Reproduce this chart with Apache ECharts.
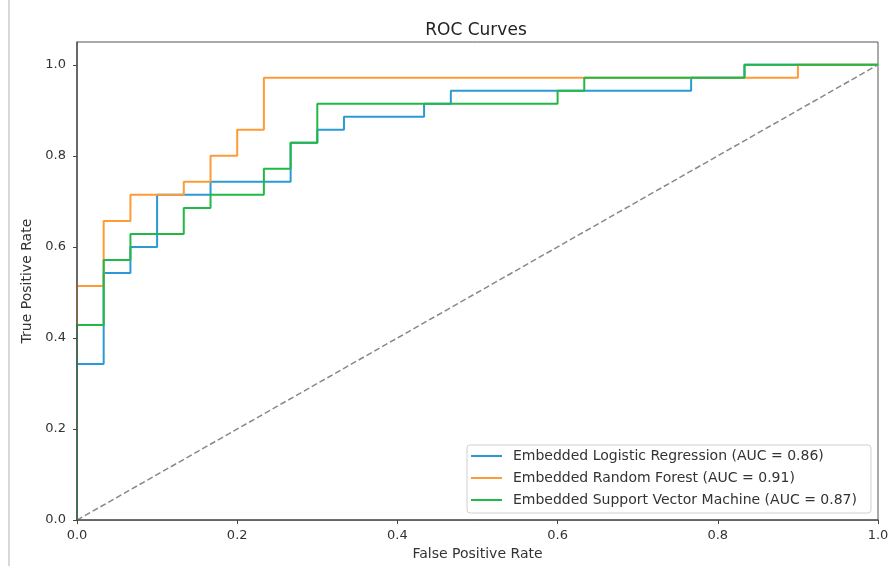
<!DOCTYPE html>
<html>
<head>
<meta charset="utf-8">
<script src="https://cdn.jsdelivr.net/npm/echarts@6/dist/echarts.min.js"></script>
<style>
html,body{margin:0;padding:0;background:#fff;}
#chart{width:892px;height:566px;}
</style>
</head>
<body>
<div id="chart"></div>
<script>
// ROC curve points (False Positive Rate, True Positive Rate)
const lrName = "Embedded Logistic Regression (AUC = 0.86)";
const lrFpr = [0, 0, 0.0333, 0.0333, 0.0667, 0.0667, 0.1, 0.1, 0.1667, 0.1667, 0.2667, 0.2667, 0.3, 0.3, 0.3333, 0.3333, 0.4333, 0.4333, 0.4667, 0.4667, 0.7667, 0.7667, 0.8333, 0.8333, 1.0];
const lrTpr = [0, 0.3429, 0.3429, 0.5429, 0.5429, 0.6, 0.6, 0.7143, 0.7143, 0.7429, 0.7429, 0.8286, 0.8286, 0.8571, 0.8571, 0.8857, 0.8857, 0.9143, 0.9143, 0.9429, 0.9429, 0.9714, 0.9714, 1.0, 1.0];

const rfName = "Embedded Random Forest (AUC = 0.91)";
const rfFpr = [0, 0, 0.0333, 0.0333, 0.0667, 0.0667, 0.1333, 0.1333, 0.1667, 0.1667, 0.2, 0.2, 0.2333, 0.2333, 0.9, 0.9, 1.0];
const rfTpr = [0, 0.5143, 0.5143, 0.6571, 0.6571, 0.7143, 0.7143, 0.7429, 0.7429, 0.8, 0.8, 0.8571, 0.8571, 0.9714, 0.9714, 1.0, 1.0];

const svmName = "Embedded Support Vector Machine (AUC = 0.87)";
const svmFpr = [0, 0, 0.0333, 0.0333, 0.0667, 0.0667, 0.1333, 0.1333, 0.1667, 0.1667, 0.2333, 0.2333, 0.2667, 0.2667, 0.3, 0.3, 0.6, 0.6, 0.6333, 0.6333, 0.8333, 0.8333, 1.0];
const svmTpr = [0, 0.4286, 0.4286, 0.5714, 0.5714, 0.6286, 0.6286, 0.6857, 0.6857, 0.7143, 0.7143, 0.7714, 0.7714, 0.8286, 0.8286, 0.9143, 0.9143, 0.9429, 0.9429, 0.9714, 0.9714, 1.0, 1.0];

const chanceX = [0, 1];
const chanceY = [0, 1];

const tickValues = [0, 0.2, 0.4, 0.6, 0.8, 1.0];

const colors = { lr: '#2b9ad4', rf: '#ff9a38', svm: '#22b845', chance: '#888888' };

function pairs(xs, ys) { return xs.map((x, i) => [x, ys[i]]); }

const chart = echarts.init(document.getElementById('chart'));
const font = 'DejaVu Sans';

const axisCommon = {
  type: 'value',
  interval: 0.2,
  z: 10,
  axisLine: { show: true, lineStyle: { color: '#555', width: 1.5 } },
  axisTick: { show: true, inside: false, length: 4, lineStyle: { color: '#444' }, customValues: tickValues },
  axisLabel: { fontFamily: font, fontSize: 13, color: '#333', formatter: v => v.toFixed(1), customValues: tickValues },
  splitLine: { show: false },
  nameLocation: 'middle',
  nameTextStyle: { fontFamily: font, fontSize: 14, color: '#333' }
};

function lineSeries(name, xs, ys, color) {
  return {
    name: name, type: 'line', data: pairs(xs, ys), symbol: 'none', showSymbol: false,
    lineStyle: { color: color, width: 2 }, itemStyle: { color: color },
    animation: false, z: 3
  };
}

chart.setOption({
  animation: false,
  title: {
    text: 'ROC Curves', left: 471, top: 17, textAlign: 'center',
    textStyle: { fontFamily: font, fontSize: 17, fontWeight: 'normal', color: '#222' }
  },
  grid: { left: 77, right: 14, top: 42, bottom: 45, show: true, borderColor: '#555', borderWidth: 1, backgroundColor: 'transparent' },
  xAxis: Object.assign({}, axisCommon, {
    min: 0, max: 1, name: 'False Positive Rate', nameGap: 26,
    axisLabel: Object.assign({}, axisCommon.axisLabel, { margin: 9 })
  }),
  yAxis: Object.assign({}, axisCommon, {
    min: 0, max: 1.05, name: 'True Positive Rate', nameGap: 38,
    axisLabel: Object.assign({}, axisCommon.axisLabel, { margin: 11 })
  }),
  legend: {
    orient: 'vertical', left: 467, top: 445,
    data: [lrName, rfName, svmName],
    icon: 'path://M0,0h31v2h-31z',
    itemWidth: 31, itemHeight: 2, itemGap: 8,
    padding: [4, 14, 6, 4],
    backgroundColor: 'rgba(255,255,255,0.85)', borderColor: '#d0d0d0', borderWidth: 1, borderRadius: 3,
    textStyle: { fontFamily: font, fontSize: 14, color: '#333', padding: [0, 0, 0, 6] }
  },
  graphic: [{ type: 'line', shape: { x1: 9, y1: 0, x2: 9, y2: 566 }, style: { stroke: '#cccccc', lineWidth: 1.5 } }],
  series: [
    lineSeries(lrName, lrFpr, lrTpr, colors.lr),
    lineSeries(rfName, rfFpr, rfTpr, colors.rf),
    lineSeries(svmName, svmFpr, svmTpr, colors.svm),
    {
      name: 'chance', type: 'line', data: pairs(chanceX, chanceY), symbol: 'none',
      lineStyle: { color: colors.chance, width: 1.5, type: [6, 3] }, z: 2, animation: false
    }
  ]
});
</script>
</body>
</html>
